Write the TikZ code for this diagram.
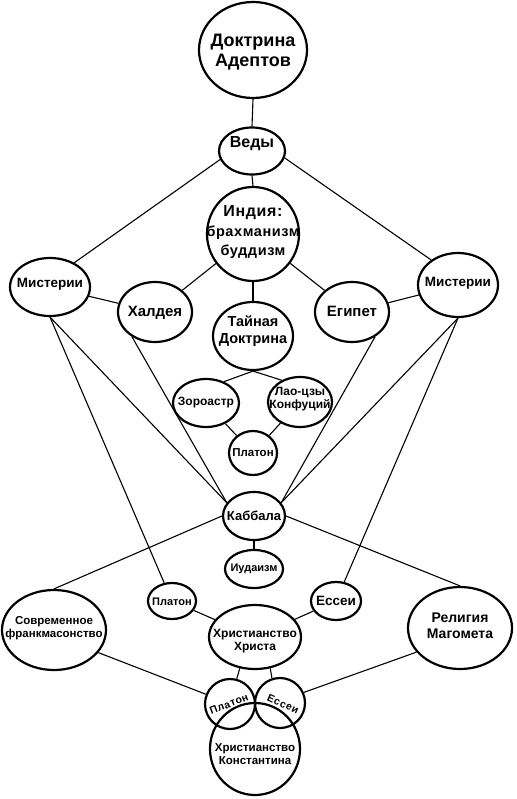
\documentclass[tikz,border=0pt]{standalone}
\usepackage{fontspec}
\setmainfont{Liberation Sans}
\usetikzlibrary{shapes.geometric}
\tikzset{
  ov/.style={draw, ellipse, line width=2.2pt, inner sep=0pt},
  ln/.style={line width=1.1pt},
  tx/.style={align=center, inner sep=0pt, font=\bfseries\fontsize{#1}{\dimexpr #1pt*112/100\relax}\selectfont},
}
\begin{document}
\begin{tikzpicture}[x=1pt,y=-1pt]
\useasboundingbox (0,0) rectangle (516,799);
% ellipses
\node[ov, minimum width=108, minimum height=96] (adept) at (253,50) {};
\node[ov, minimum width=66, minimum height=47] (vedy) at (252,151) {};
\node[ov, minimum width=92, minimum height=94] (ind) at (253,234) {};
\node[ov, minimum width=80, minimum height=58] (misL) at (50,287) {};
\node[ov, minimum width=74, minimum height=60] (khal) at (155,312) {};
\node[ov, minimum width=74, minimum height=60] (egy) at (352,312) {};
\node[ov, minimum width=80, minimum height=64] (misR) at (458,285) {};
\node[ov, minimum width=80, minimum height=68] (tay) at (253,336) {};
\node[ov, minimum width=66, minimum height=48] (zor) at (206,403) {};
\node[ov, minimum width=64, minimum height=50] (lao) at (300,402) {};
\node[ov, minimum width=48, minimum height=44] (plat) at (253,453) {};
\node[ov, minimum width=62, minimum height=48] (kab) at (254,516) {};
\node[ov, minimum width=58, minimum height=38] (jud) at (254,569) {};
\node[ov, minimum width=48, minimum height=36] (platL) at (172,601) {};
\node[ov, minimum width=50, minimum height=38] (ess) at (336,601) {};
\node[ov, minimum width=104, minimum height=80] (sov) at (54,630) {};
\node[ov, minimum width=104, minimum height=82] (rel) at (460,628) {};
\node[ov, minimum width=92, minimum height=64] (khr) at (255,637) {};
\node[ov, minimum width=50, minimum height=50] (platB) at (230,704) {};
\node[ov, minimum width=50, minimum height=50] (essB) at (280,703) {};
\node[ov, minimum width=90, minimum height=92] (kon) at (255,749) {};
% labels
\node[tx=18] (adept-t) at (253,52) {Доктрина\\Адептов};
\node[tx=16] (vedy-t) at (252,144) {Веды};
\node[tx=16] (ind-t1) at (253,213) {\addfontfeatures{LetterSpace=4}Индия:};
\node[tx=14.5] (ind-t2) at (253,233) {\addfontfeatures{LetterSpace=4}брахманизм};
\node[tx=14.5] (ind-t3) at (253,252) {\addfontfeatures{LetterSpace=4}буддизм};
\node[tx=13.5] (misL-t) at (50,284) {Мистерии};
\node[tx=15] (khal-t) at (155,313) {Халдея};
\node[tx=15] (egy-t) at (352,311) {Египет};
\node[tx=13.5] (misR-t) at (458,283) {Мистерии};
\node[tx=14.5] (tay-t) at (253,331) {Тайная\\Доктрина};
\node[tx=12] (zor-t) at (206,403) {Зороастр};
\node[tx=12] (lao-t) at (300,399) {Лао-цзы\\Конфуций};
\node[tx=11.5] (plat-t) at (253,453) {Платон};
\node[tx=13] (kab-t) at (254,516) {Каббала};
\node[tx=11] (jud-t) at (254,569) {Иудаизм};
\node[tx=11] (platL-t) at (172,602) {Платон};
\node[tx=13.5] (ess-t) at (336,601) {Ессеи};
\node[tx=11.5] (sov-t) at (54,628) {Современное\\франкмасонство};
\node[tx=14] (rel-t) at (460,626) {Религия\\Магомета};
\node[tx=12] (khr-t) at (255,641) {Христианство\\Христа};
\node[tx=11.5] (kon-t) at (255,754) {Христианство\\Константина};
\node[tx=10.5, rotate=21] (platB-t) at (229,704) {\addfontfeatures{LetterSpace=5}Платон};
\node[tx=10.5, rotate=-24] (essB-t) at (283,704) {\addfontfeatures{LetterSpace=6}Ессеи};
% connectors
\draw[ln] (adept.south) -- (vedy.north);
\draw[ln] (vedy.195) -- (misL.45);
\draw[ln] (vedy.348) -- (misR.137);
\draw[ln] (vedy.south) -- (ind.north);
\draw[ln] (ind) -- (khal);
\draw[ln] (ind) -- (egy);
\draw[ln] (ind.south) -- (tay.north);
\draw[ln] (misL) -- (khal);
\draw[ln] (egy) -- (misR);
\draw[ln] (tay.south) -- (zor.50);
\draw[ln] (tay.south) -- (lao.130);
\draw[ln] (zor) -- (plat);
\draw[ln] (lao) -- (plat);
\draw[ln] (misL.south) -- (kab.154);
\draw[ln] (misL.south) -- (platL);
\draw[ln] (khal.227) -- (kab.154);
\draw[ln] (egy.313) -- (kab.26);
\draw[ln] (misR.south) -- (kab.26);
\draw[ln] (misR.south) -- (ess);
\draw[ln] (kab.west) -- (sov.north);
\draw[ln] (kab.east) -- (rel.north);
\draw[ln] (kab.south) -- (jud.north);
\draw[ln] (platL) -- (khr);
\draw[ln] (ess) -- (khr);
\draw[ln] (khr.244) -- (platB.75);
\draw[ln] (khr.296) -- (essB.108);
\draw[ln] (sov.333) -- (platB.158);
\draw[ln] (rel.209) -- (essB.24);
\end{tikzpicture}
\end{document}
